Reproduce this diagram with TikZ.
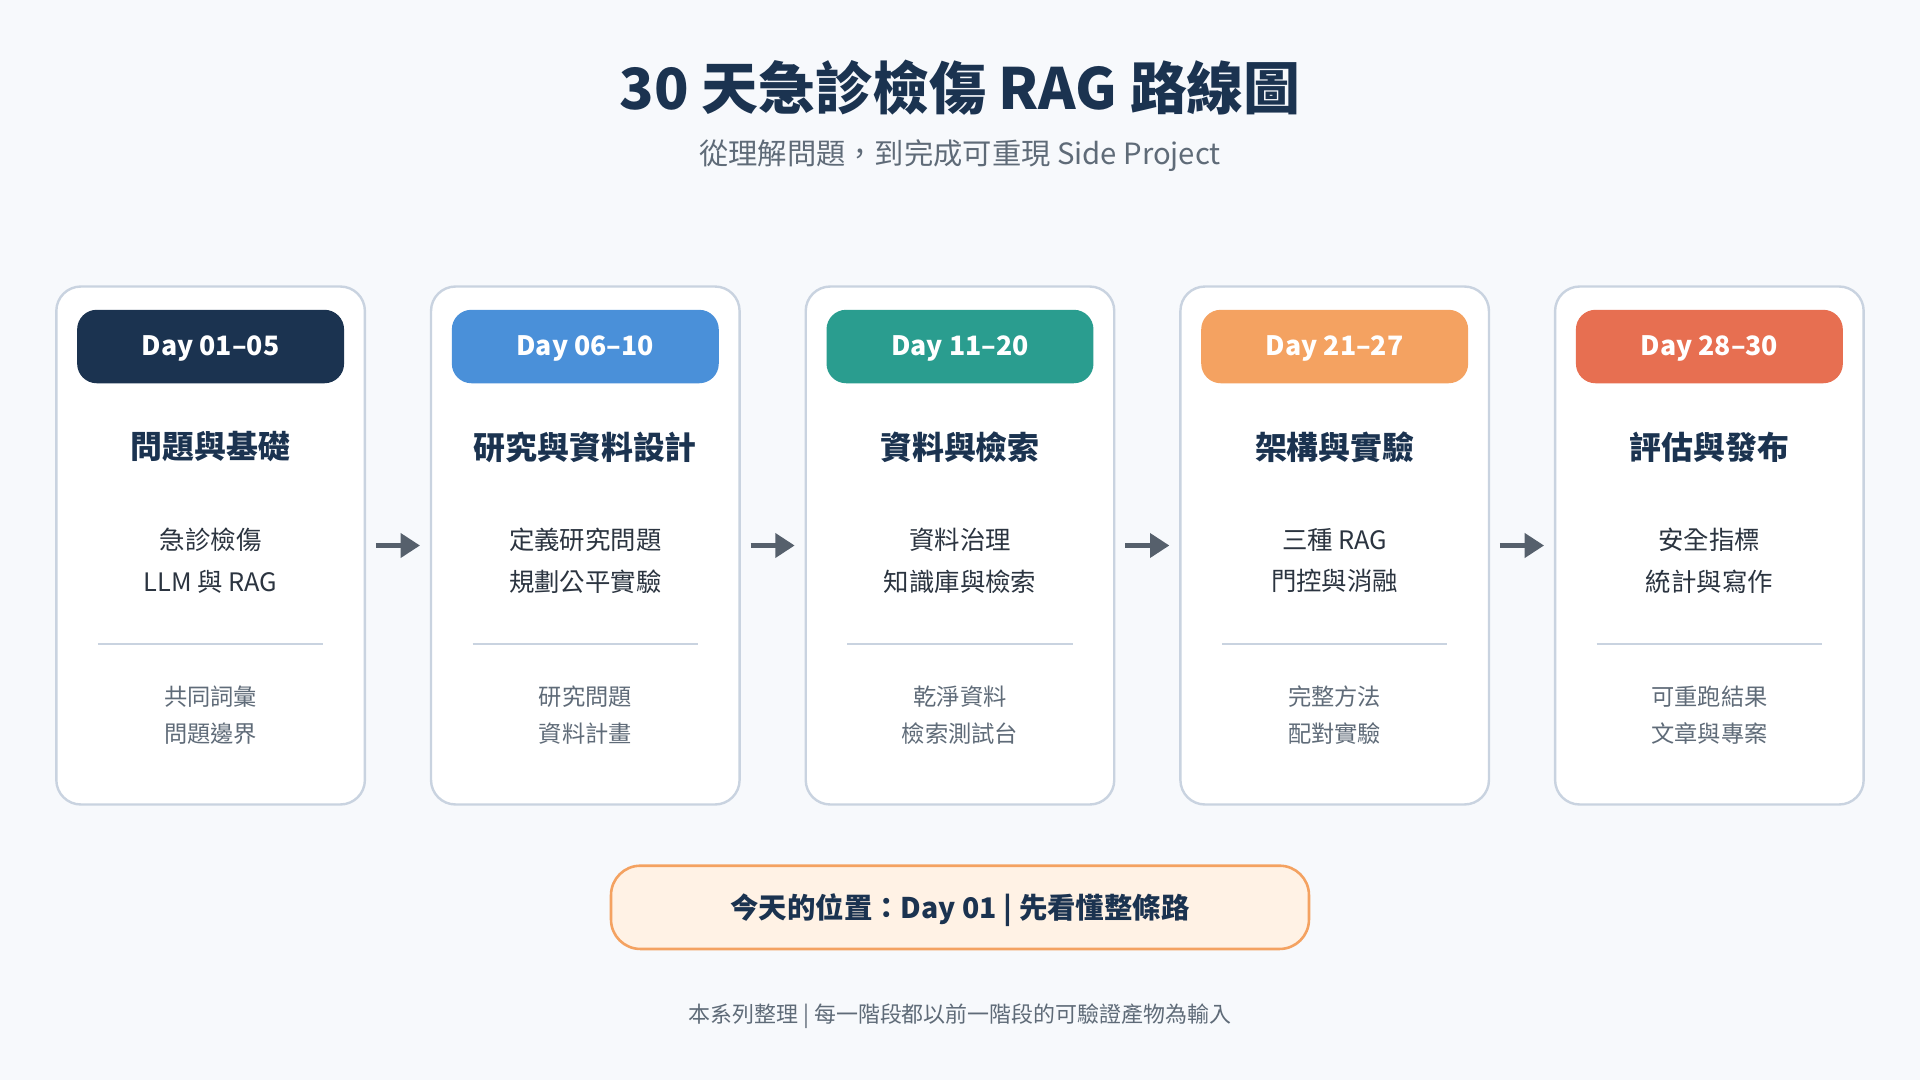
\documentclass[tikz,border=0pt]{standalone}
\usepackage{fontspec}
\setmainfont{Noto Sans CJK TC}
\usetikzlibrary{arrows.meta}
\definecolor{navy}{HTML}{1B3350}
\definecolor{cblue}{HTML}{4A90D9}
\definecolor{cteal}{HTML}{2A9D8F}
\definecolor{corange}{HTML}{F4A261}
\definecolor{cred}{HTML}{E76F51}
\definecolor{cborder}{HTML}{C9D3E0}
\definecolor{gtext}{HTML}{5F6B78}
\definecolor{btext}{HTML}{2B3440}
\definecolor{bg}{HTML}{F7F9FC}
\tikzset{
 card/.style={draw=cborder,line width=1.6pt*0.35,fill=white,rounded corners=20*0.01cm,minimum width=252*0.01cm,minimum height=423*0.01cm,inner sep=0},
 pill/.style={rounded corners=16*0.01cm,minimum width=218*0.01cm,minimum height=60*0.01cm,inner sep=0,text=white,font=\fontsize{6.2pt}{7pt}\selectfont\bfseries},
 ctitle/.style={text=navy,font=\fontsize{7.4pt}{9pt}\selectfont\bfseries},
 body/.style={text=btext,align=center,font=\fontsize{5.9pt}{9.6pt}\selectfont},
 small/.style={text=gtext,align=center,font=\fontsize{5.4pt}{8.6pt}\selectfont},
 divl/.style={draw=cborder,line width=0.6pt},
 arr/.style={draw=gtext!90!black,line width=1.1pt,-{Triangle[length=4.5pt,width=5.5pt]}},
}
\begin{document}
\begin{tikzpicture}[x=0.01cm,y=-0.01cm]
\fill[bg] (0,0) rectangle (1568,882);
\node[text=navy,font=\fontsize{13.2pt}{15pt}\selectfont\bfseries] (title) at (784,72) {30 天急診檢傷 RAG 路線圖};
\node[text=gtext,font=\fontsize{6.8pt}{8pt}\selectfont] (sub) at (784,127) {從理解問題，到完成可重現 Side Project};
\foreach \i/\x/\c/\d/\t/\ba/\bb/\sa/\sb in {
1/172/navy/Day 01–05/問題與基礎/急診檢傷/LLM 與 RAG/共同詞彙/問題邊界,
2/478/cblue/Day 06–10/研究與資料設計/定義研究問題/規劃公平實驗/研究問題/資料計畫,
3/784/cteal/Day 11–20/資料與檢索/資料治理/知識庫與檢索/乾淨資料/檢索測試台,
4/1090/corange/Day 21–27/架構與實驗/三種 RAG/門控與消融/完整方法/配對實驗,
5/1396/cred/Day 28–30/評估與發布/安全指標/統計與寫作/可重跑結果/文章與專案}{
 \node[card] (card\i) at (\x,445.5) {};
 \node[pill,fill=\c] (pill\i) at (\x,283) {};
 \node[text=white,font=\fontsize{6.2pt}{7pt}\selectfont\bfseries] (pt\i) at (\x,285) {\d};
 \node[ctitle] (ct\i) at (\x,365) {\t};
 \node[body] (b\i) at (\x,458) {\ba\\\bb};
 \draw[divl] (\x-92,526) -- (\x+92,526);
 \node[small] (s\i) at (\x,584) {\sa\\\sb};
}
\foreach \a/\b in {1/2,2/3,3/4,4/5}{
 \draw[arr] ([xshift=8*0.01cm,yshift=0]card\a.east) -- ([xshift=-8*0.01cm]card\b.west);
}
\node[draw=corange,line width=0.6pt,fill=orange!10,rounded corners=24*0.01cm,minimum width=570*0.01cm,minimum height=68*0.01cm] (today) at (784,741) {};
\node[text=navy,font=\fontsize{6.6pt}{8pt}\selectfont\bfseries] (todayt) at (784,743) {今天的位置：Day 01 | 先看懂整條路};
\node[text=gtext,font=\fontsize{5.1pt}{6pt}\selectfont] (foot) at (784,830) {本系列整理 | 每一階段都以前一階段的可驗證產物為輸入};
\end{tikzpicture}
\end{document}
